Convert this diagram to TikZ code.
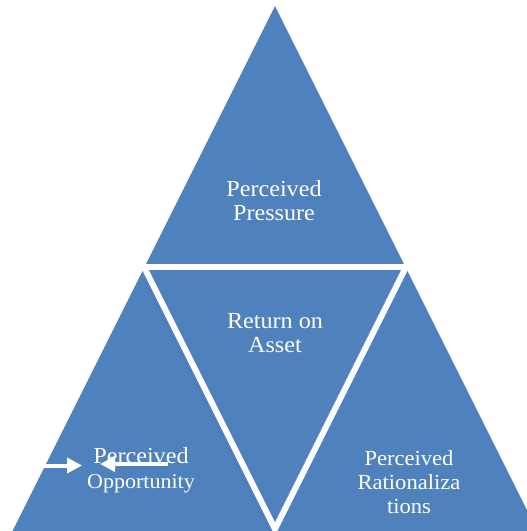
\documentclass[tikz,border=0pt]{standalone}
\usepackage{fontspec}
\setmainfont{Liberation Serif}[FakeStretch=1.05]
\usetikzlibrary{arrows.meta}
\definecolor{triblue}{RGB}{79,129,189}
\begin{document}
\begin{tikzpicture}[x=1pt,y=-1pt,
    lbl/.style={text=white,align=center,inner sep=0pt},
    gap/.style={white,line width=6pt,line join=miter},
    warrow/.style={white,line width=4pt,-{Triangle[width=15pt,length=15pt]}}]
  \useasboundingbox(0,0)rectangle(527,531);
  \clip(0,0)rectangle(527,531);
  % big triangle, cut into four by white gaps
  \fill[triblue](275,6)--(5,546)--(545,546)--cycle;
  \coordinate(gl)at(100,267);\coordinate(gr)at(450,267);
  \coordinate(ml)at(144,267);\coordinate(mr)at(406,267);\coordinate(mb)at(275,529);
  \draw[gap](gl)--(gr);
  \draw[gap](ml)--(mb)--(mr);
  \node[lbl,font=\fontsize{23}{24}\selectfont](pres)at(274,200.5){Perceived\\Pressure};
  \node[lbl,font=\fontsize{23}{24}\selectfont](roa)at(275,333.5){Return on\\Asset};
  \node[lbl,font=\fontsize{21.5}{24}\selectfont](rat)at(409,482.5){Perceived\\Rationaliza\\tions};
  \node[lbl,font=\fontsize{21}{25}\selectfont](opp)at(141,470){{\fontsize{23}{25}\selectfont Perceived}\\Opportunity};
  \coordinate(a1)at(40,465.5);\coordinate(a2)at(82,465.5);
  \coordinate(b1)at(168,464);\coordinate(b2)at(100,464);
  \draw[warrow](a1)--(a2);
  \draw[warrow](b1)--(b2);
\end{tikzpicture}
\end{document}
